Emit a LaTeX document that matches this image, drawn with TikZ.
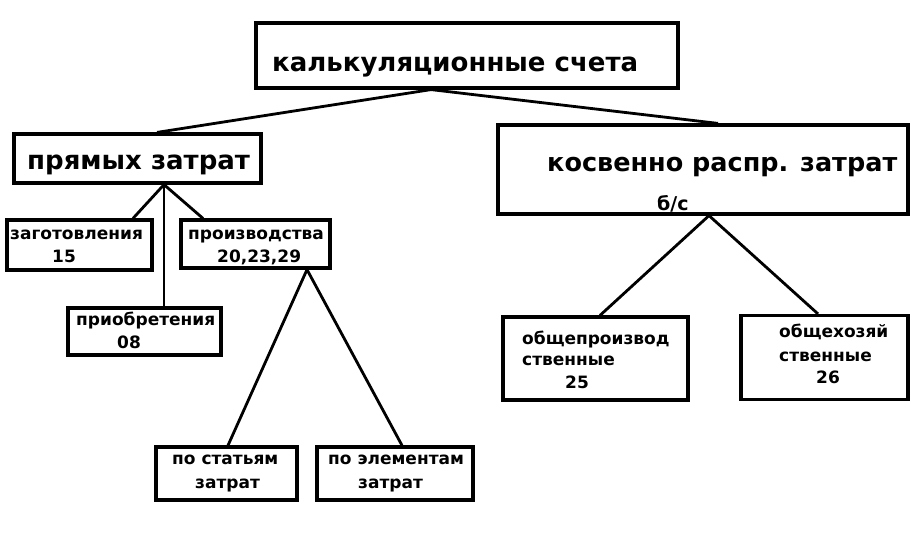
\documentclass[tikz,border=0pt]{standalone}
\usepackage{fontspec}
\setmainfont{DejaVu Sans}

\tikzset{
  box/.style={draw, line width=3.2pt, inner sep=0pt},
  link/.style={line width=2.8pt},
  big/.style={inner sep=0pt, anchor=base west, font=\bfseries\fontsize{26}{30}\selectfont},
  small/.style={inner sep=0pt, anchor=base west, font=\bfseries\fontsize{17}{20}\selectfont}
}

\begin{document}
\begin{tikzpicture}[x=1pt, y=-1pt]
\useasboundingbox (0,0) rectangle (916,538);

% draw boxes
\node[box, minimum width=422pt, minimum height=65pt] (calc) at (467,55.5) {};
\node[box, minimum width=247pt, minimum height=49pt] (direct) at (137.5,158.5) {};
\node[box, minimum width=410pt, minimum height=89pt] (indirect) at (703,169.5) {};
\node[box, minimum width=145pt, minimum height=50pt] (procure) at (79.5,245) {};
\node[box, minimum width=149pt, minimum height=48pt] (product) at (255.5,244) {};
\node[box, minimum width=153pt, minimum height=47pt] (acquire) at (144.5,331.5) {};
\node[box, minimum width=141pt, minimum height=53pt] (items) at (226.5,473.5) {};
\node[box, minimum width=156pt, minimum height=53pt] (elements) at (395,473.5) {};
\node[box, minimum width=185pt, minimum height=83pt] (overhead) at (595.5,358.5) {};
\node[box, minimum width=167pt, minimum height=84pt] (admin) at (824.5,357.5) {};

% draw texts
\node[big, font=\bfseries\fontsize{26}{30}\selectfont] (calc-t) at (272,71) {калькуляционные счета};
\node[big] (direct-t) at (27,169) {прямых затрат};
\node[big, font=\bfseries\fontsize{25.5}{28}\selectfont] (indirect-t) at (547,171) {косвенно распр. затрат};
\node[small, font=\bfseries\fontsize{19}{20}\selectfont] (indirect-n) at (657,210) {б/с};
\node[small] (procure-t) at (10,239) {заготовления};
\node[small] (procure-n) at (52,262) {15};
\node[small] (product-t) at (188,239) {производства};
\node[small] (product-n) at (217,262) {20,23,29};
\node[small] (acquire-t) at (76,325) {приобретения};
\node[small] (acquire-n) at (117,348) {08};
\node[small] (items-t) at (172,464) {по статьям};
\node[small] (items-n) at (195,488) {затрат};
\node[small] (elements-t) at (328,464) {по элементам};
\node[small] (elements-n) at (358,488) {затрат};
\node[small] (overhead-t) at (522,344) {общепроизвод};
\node[small] (overhead-u) at (522,365) {ственные};
\node[small] (overhead-n) at (565,388) {25};
\node[small] (admin-t) at (779,337) {общехозяй};
\node[small] (admin-u) at (779,361) {ственные};
\node[small] (admin-n) at (816,383) {26};

% draw connectors
\draw[link] ([xshift=-36pt]calc.south) -- ([xshift=19.5pt]direct.north);
\draw[link] ([xshift=-36pt]calc.south) -- ([xshift=15pt]indirect.north);
\draw[link] ([xshift=26.5pt]direct.south) -- ([xshift=53.5pt]procure.north);
\draw[link] ([xshift=26.5pt]direct.south) -- ([xshift=19.5pt]acquire.north);
\draw[link] ([xshift=26.5pt]direct.south) -- ([xshift=-52.5pt]product.north);
\draw[link] ([xshift=51.5pt]product.south) -- ([xshift=1.5pt]items.north);
\draw[link] ([xshift=51.5pt]product.south) -- ([xshift=7pt]elements.north);
\draw[link] ([xshift=6pt]indirect.south) -- ([xshift=4.5pt]overhead.north);
\draw[link] ([xshift=6pt]indirect.south) -- ([xshift=-6.5pt]admin.north);
\end{tikzpicture}
\end{document}
